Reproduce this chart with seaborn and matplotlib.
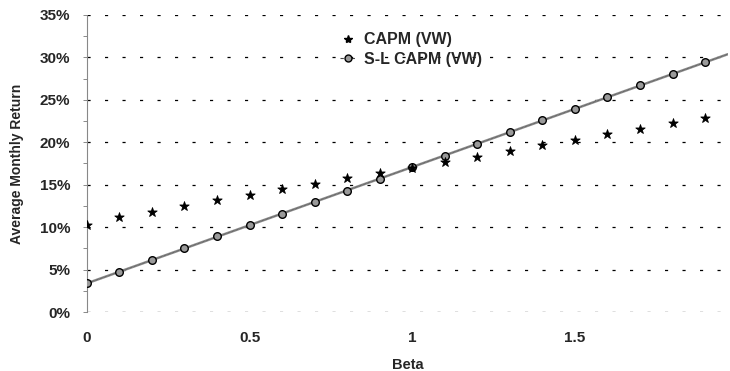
import numpy as np
import pandas as pd
import matplotlib
matplotlib.use("Agg")
import matplotlib.pyplot as plt
from matplotlib.lines import Line2D
from matplotlib.ticker import FuncFormatter, MultipleLocator
import seaborn as sns

beta = [0.0, 0.1, 0.2, 0.3, 0.4, 0.5, 0.6, 0.7, 0.8, 0.9,
        1.0, 1.1, 1.2, 1.3, 1.4, 1.5, 1.6, 1.7, 1.8, 1.9]
capm_vw = [10.3, 11.2, 11.8, 12.5, 13.2, 13.8, 14.5, 15.1, 15.8, 16.4,
           17.0, 17.7, 18.3, 19.0, 19.7, 20.3, 21.0, 21.6, 22.3, 22.9]
sl_capm_vw = [3.4, 4.7, 6.1, 7.5, 8.9, 10.2, 11.6, 13.0, 14.3, 15.7,
              17.1, 18.4, 19.8, 21.2, 22.6, 23.9, 25.3, 26.7, 28.0, 29.4]
x_ticks = [0, 0.5, 1, 1.5]
x_tick_labels = ["0", "0.5", "1", "1.5"]
y_ticks = [0, 5, 10, 15, 20, 25, 30, 35]

sns.set_theme(style="white")
plt.rcParams["font.family"] = ["Liberation Sans", "DejaVu Sans"]

df = pd.DataFrame({"beta": beta, "capm": capm_vw, "sl": sl_capm_vw})

fig = plt.figure(figsize=(7.30, 3.71), dpi=100)
ax = fig.add_axes([0.119, 0.159, 0.878, 0.801])

xmax = 1.97
# fitted line for S-L CAPM
coef = np.polyfit(df["beta"], df["sl"], 1)
fit = pd.DataFrame({"beta": [0.0, xmax]})
fit["sl"] = np.polyval(coef, fit["beta"])

for yv in y_ticks:
    ax.axhline(yv, color="black", lw=0.9, ls=(0, (2.5, 11.5)), zorder=1)

sns.lineplot(data=fit, x="beta", y="sl", ax=ax, color="#8a8a8a", lw=1.8, zorder=2)
sns.lineplot(data=fit, x="beta", y="sl", ax=ax, color="#444444", lw=0.5,
             ls=(0, (1, 1)), zorder=2)
sns.scatterplot(data=df, x="beta", y="sl", ax=ax, marker="o", s=30,
                color="#9a9a9a", edgecolor="black", linewidth=1.0, zorder=3)
sns.scatterplot(data=df, x="beta", y="capm", ax=ax, marker="*", s=50,
                color="black", edgecolor="black", linewidth=0.6, zorder=4)

ax.set_xlim(0, xmax)
ax.set_ylim(0, 35)
ax.set_xticks(x_ticks)
ax.set_xticklabels(x_tick_labels)
ax.set_yticks(y_ticks)
ax.yaxis.set_major_formatter(FuncFormatter(lambda v, p: f"{v:.0f}%"))
ax.yaxis.set_minor_locator(MultipleLocator(2.5))
ax.tick_params(axis="y", which="both", left=True, length=3, width=0.6,
               color="#777777", labelsize=11, pad=9)
ax.tick_params(axis="x", bottom=False, labelsize=11, pad=7.5)
for lab in ax.get_xticklabels() + ax.get_yticklabels():
    lab.set_fontweight("bold")

for s in ["top", "right", "bottom"]:
    ax.spines[s].set_visible(False)
ax.spines["left"].set_color("#888888")
ax.spines["left"].set_linestyle((0, (1, 1)))
ax.spines["left"].set_linewidth(0.8)

ax.set_xlabel("Beta", fontsize=10.5, fontweight="bold")
ax.xaxis.set_label_coords(0.5, -0.155)
ax.set_ylabel("Average Monthly Return", fontsize=10, fontweight="bold")
ax.yaxis.set_label_coords(-0.098, 0.5)

h1 = Line2D([], [], ls="none", marker="*", color="black", markersize=6)
h2 = Line2D([], [], ls=(0, (3, 2)), color="#444444", lw=0.8, marker="o",
            markerfacecolor="#9a9a9a", markeredgecolor="black", markersize=5)
ax.legend([h1, h2], ["CAPM (VW)", "S-L CAPM (VW)"], loc="upper left",
          bbox_to_anchor=(0.373, 0.99), frameon=False, handlelength=1.0,
          handletextpad=0.5, labelspacing=0.3,
          prop={"weight": "bold", "size": 11.5})

fig.savefig("out.png", dpi=100)
